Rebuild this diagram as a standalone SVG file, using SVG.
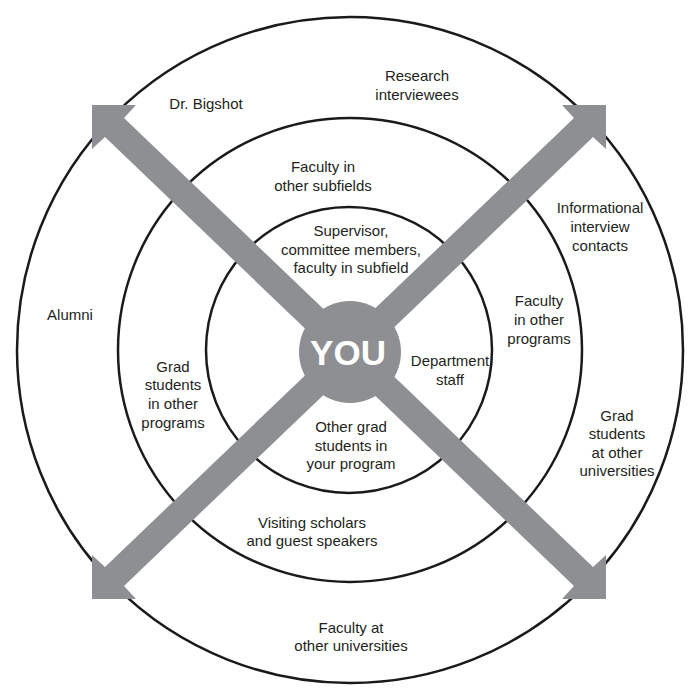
<svg xmlns="http://www.w3.org/2000/svg" width="700" height="700" viewBox="0 0 700 700">
<style>
.ring{fill:none;stroke:#1a1a1a;stroke-width:2.5}
.arm{fill:#8e8f92}
.lbl{font-family:"Liberation Sans",Arial,sans-serif;font-size:15px;fill:#231f20;text-anchor:middle}
.you{font-family:"Liberation Sans",Arial,sans-serif;font-size:35px;font-weight:bold;fill:#ffffff;text-anchor:middle}
</style>
<rect width="700" height="700" fill="#ffffff"/>
<g id="rings">
<circle class="ring" cx="350" cy="350" r="333"/>
<circle class="ring" cx="350" cy="350" r="232"/>
<circle class="ring" cx="349" cy="350" r="143"/>
</g>
<g id="connectors">
<polygon class="arm" points="92,105 136,105 124,118 593,567 606,555 606,599 562,599 574,586 105,137 92,149"/>
<polygon class="arm" points="606,105 562,105 574,118 105,567 92,555 92,599 136,599 124,586 593,137 606,149"/>
</g>
<g id="you">
<circle cx="350" cy="352" r="51" fill="#8e8f92"/>
<text class="you" x="348" y="365">YOU</text>
</g>
<g id="research"><text class="lbl" x="417" y="81">Research</text><text class="lbl" x="417" y="100">interviewees</text></g>
<g id="bigshot"><text class="lbl" x="206" y="109">Dr. Bigshot</text></g>
<g id="faculty-subfields"><text class="lbl" x="323" y="172">Faculty in</text><text class="lbl" x="323" y="191">other subfields</text></g>
<g id="supervisor"><text class="lbl" x="351" y="236">Supervisor,</text><text class="lbl" x="351" y="255">committee members,</text><text class="lbl" x="351" y="273">faculty in subfield</text></g>
<g id="informational"><text class="lbl" x="600" y="213">Informational</text><text class="lbl" x="600" y="232">interview</text><text class="lbl" x="600" y="251">contacts</text></g>
<g id="alumni"><text class="lbl" x="70" y="320">Alumni</text></g>
<g id="faculty-programs"><text class="lbl" x="539" y="306">Faculty</text><text class="lbl" x="539" y="325">in other</text><text class="lbl" x="539" y="344">programs</text></g>
<g id="staff"><text class="lbl" x="450" y="366">Department</text><text class="lbl" x="450" y="385">staff</text></g>
<g id="grad-programs"><text class="lbl" x="173" y="372">Grad</text><text class="lbl" x="173" y="390">students</text><text class="lbl" x="173" y="409">in other</text><text class="lbl" x="173" y="428">programs</text></g>
<g id="grad-universities"><text class="lbl" x="617" y="421">Grad</text><text class="lbl" x="617" y="439">students</text><text class="lbl" x="617" y="458">at other</text><text class="lbl" x="617" y="476">universities</text></g>
<g id="other-grad"><text class="lbl" x="351" y="432">Other grad</text><text class="lbl" x="351" y="451">students in</text><text class="lbl" x="351" y="469">your program</text></g>
<g id="visiting"><text class="lbl" x="312" y="528">Visiting scholars</text><text class="lbl" x="312" y="546">and guest speakers</text></g>
<g id="faculty-universities"><text class="lbl" x="351" y="633">Faculty at</text><text class="lbl" x="351" y="651">other universities</text></g>
</svg>
